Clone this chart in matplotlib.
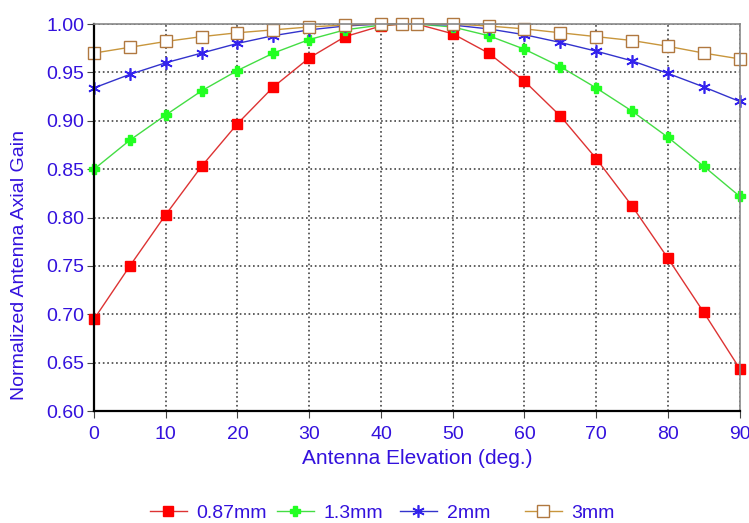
import numpy as np
import matplotlib
matplotlib.use("Agg")
import matplotlib.pyplot as plt

plt.rcParams['font.family'] = ['Liberation Sans', 'DejaVu Sans']

# Antenna elevation (deg.)
elev = [0, 5, 10, 15, 20, 25, 30, 35, 40, 43, 45, 50, 55, 60, 65, 70, 75, 80, 85, 90]

gain_087 = [0.695, 0.750, 0.803, 0.853, 0.897, 0.935, 0.965, 0.987, 0.998, 1.0, 1.0,
            0.990, 0.970, 0.941, 0.905, 0.861, 0.812, 0.758, 0.702, 0.644]
gain_13 = [0.850, 0.880, 0.906, 0.931, 0.952, 0.970, 0.984, 0.994, 0.999, 1.0, 1.0,
           0.997, 0.988, 0.974, 0.956, 0.934, 0.910, 0.883, 0.853, 0.822]
gain_2 = [0.934, 0.948, 0.960, 0.970, 0.980, 0.988, 0.994, 0.998, 1.0, 1.0, 1.0,
          0.999, 0.995, 0.989, 0.981, 0.972, 0.962, 0.949, 0.935, 0.920]
gain_3 = [0.970, 0.976, 0.982, 0.987, 0.991, 0.994, 0.997, 0.999, 1.0, 1.0, 1.0,
          1.0, 0.998, 0.995, 0.991, 0.987, 0.983, 0.977, 0.970, 0.964]

labels = ['0.87mm', '1.3mm', '2mm', '3mm']
txt_color = '#3311dd'

fig = plt.figure(figsize=(7.49, 5.23), dpi=100)
ax = fig.add_axes([0.1255, 0.214, 0.862, 0.740])

h1, = ax.plot(elev, gain_087, color='#dd3333', lw=1, marker='s', ms=7,
              mfc='#ff0000', mec='#ff0000', clip_on=False, label=labels[0])
h2, = ax.plot(elev, gain_13, color='#44dd44', lw=1, marker='P', ms=7,
              mfc='#22ff22', mec='#22ff22', clip_on=False, label=labels[1])
h3, = ax.plot(elev, gain_2, color='#3333cc', lw=1, marker=(6, 2, 0), ms=9,
              mec='#3322ee', mew=1.2, clip_on=False, label=labels[2])
h4, = ax.plot(elev, gain_3, color='#c8963c', lw=1, marker='s', ms=9,
              mfc='white', mec='#b07840', mew=1, clip_on=False, label=labels[3])

ax.set_xlim(0, 90)
ax.set_ylim(0.60, 1.00)
ax.set_xticks(np.arange(0, 91, 10))
ax.set_yticks(np.arange(0.60, 1.001, 0.05))
ax.set_yticklabels([f'{v:.2f}' for v in np.arange(0.60, 1.001, 0.05)])
ax.grid(True, ls=':', color='#444444', lw=1.2)
ax.tick_params(axis='both', colors='#444444', labelcolor=txt_color, labelsize=14, length=5)
ax.tick_params(axis='x', pad=6)
ax.tick_params(axis='y', pad=2)

for s in ['left', 'bottom']:
    ax.spines[s].set_color('black')
    ax.spines[s].set_linewidth(1.6)
for s in ['top', 'right']:
    ax.spines[s].set_color('#888888')
    ax.spines[s].set_linewidth(1.2)

ax.set_xlabel('Antenna Elevation (deg.)', color=txt_color, fontsize=15, labelpad=4)
ax.set_ylabel('Normalized Antenna Axial Gain', color=txt_color, fontsize=14)
ax.yaxis.set_label_coords(-0.102, 0.377)

# legend entries sit at a fixed pitch along the bottom
leg_x = [150, 277, 400, 525]
for h, x in zip([h1, h2, h3, h4], leg_x):
    leg = fig.legend(handles=[h], loc='center left', bbox_to_anchor=(x / 749, 10 / 523),
                     frameon=False, fontsize=14, handlelength=1.9, handletextpad=0.5,
                     borderpad=0, borderaxespad=0)
    for t in leg.get_texts():
        t.set_color(txt_color)

fig.savefig('out.png', dpi=100)
